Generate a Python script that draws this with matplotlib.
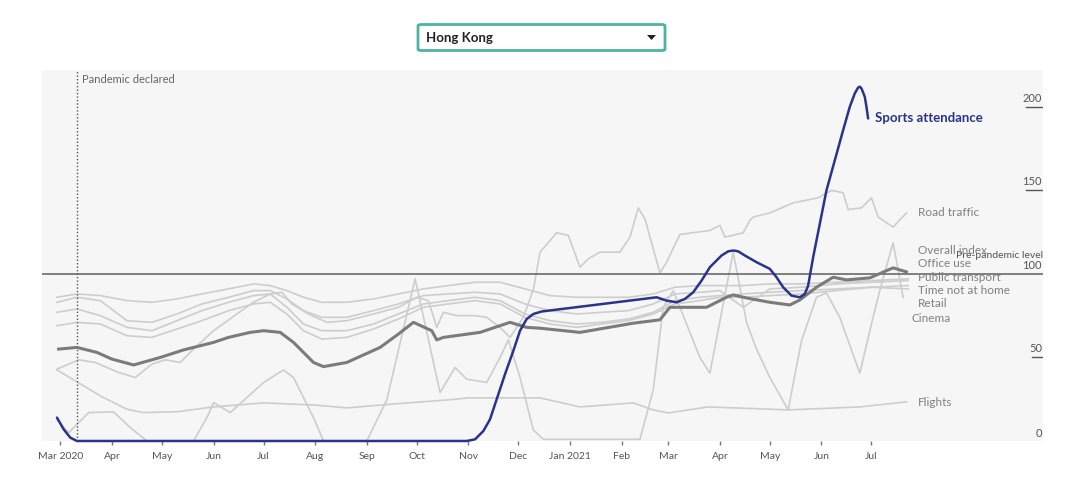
import matplotlib
matplotlib.use("Agg")
import matplotlib.pyplot as plt
import matplotlib.dates as mdates
import pandas as pd
from matplotlib.patches import FancyBboxPatch, Polygon

plt.rcParams['font.family'] = ['Lato', 'DejaVu Sans']

# ---------------- DATA ----------------
sports_dates = ["2020-02-28","2020-03-03","2020-03-07","2020-03-11","2020-10-31","2020-11-05","2020-11-10",
                "2020-11-14","2020-11-18","2020-11-23","2020-11-28","2020-12-02","2020-12-06","2020-12-10",
                "2020-12-15","2021-02-22","2021-02-28","2021-03-06","2021-03-11","2021-03-16","2021-03-21",
                "2021-03-26","2021-04-02","2021-04-06","2021-04-09","2021-04-12","2021-04-16","2021-04-23",
                "2021-05-01","2021-05-05","2021-05-09","2021-05-14","2021-05-19","2021-05-22","2021-05-24",
                "2021-05-27","2021-05-31","2021-06-04","2021-06-09","2021-06-14","2021-06-18","2021-06-21",
                "2021-06-23","2021-06-24","2021-06-25","2021-06-27","2021-06-28","2021-06-29"]
sports_vals = [14, 7, 2, 0, 0, 1, 6, 13, 25, 40, 54, 66, 73, 76, 77.5, 86, 84, 83, 85, 89, 96, 104, 111, 113.5,
               114, 113.5, 111, 107, 103, 98, 92, 87, 86, 88, 93, 110, 130, 150, 168, 186, 200, 208, 211.5,
               212, 211, 206, 200, 193]

overall_dates = ["2020-02-29","2020-03-11","2020-03-23","2020-04-01","2020-04-14","2020-04-30","2020-05-14",
                 "2020-06-01","2020-06-10","2020-06-23","2020-07-01","2020-07-11","2020-07-19","2020-07-31",
                 "2020-08-06","2020-08-20","2020-09-09","2020-09-20","2020-09-29","2020-10-10","2020-10-13",
                 "2020-10-17","2020-11-08","2020-11-26","2020-12-06","2020-12-14","2021-01-07","2021-02-08",
                 "2021-02-20","2021-02-24","2021-03-02","2021-03-24","2021-04-05","2021-04-09","2021-04-17",
                 "2021-05-01","2021-05-13","2021-05-19","2021-05-29","2021-06-08","2021-06-16","2021-06-30",
                 "2021-07-14","2021-07-22"]
overall_vals = [55, 56, 53, 49, 45.5, 50, 54.5, 59, 62, 65, 66, 65, 59, 47, 44.5, 47, 56, 64, 71, 66, 60.5,
                62, 65, 71, 68, 67.5, 65, 70.5, 72, 72.5, 80, 80, 86, 87.4, 85.6, 83, 81.4, 84.4, 92, 98,
                96.4, 97.6, 103.6, 101.2]

road_dates = ["2020-02-28","2020-03-12","2020-03-22","2020-04-05","2020-04-15","2020-04-25","2020-05-03",
              "2020-05-12","2020-05-20","2020-06-01","2020-06-15","2020-06-25","2020-07-05","2020-07-12",
              "2020-07-18","2020-07-28","2020-08-08","2020-08-20","2020-09-05","2020-09-20","2020-10-01",
              "2020-10-08","2020-10-13","2020-10-17","2020-10-25","2020-11-05","2020-11-12","2020-11-20",
              "2020-11-26","2020-12-04","2020-12-10","2020-12-14","2020-12-24","2020-12-31","2021-01-07",
              "2021-01-12","2021-01-19","2021-01-31","2021-02-06","2021-02-11","2021-02-15","2021-02-24",
              "2021-02-28","2021-03-08","2021-03-26","2021-04-01","2021-04-04","2021-04-15","2021-04-19",
              "2021-04-21","2021-05-01","2021-05-15","2021-05-30","2021-06-07","2021-06-14","2021-06-17",
              "2021-06-25","2021-07-01","2021-07-05","2021-07-14","2021-07-22"]
road_vals = [43, 48.6, 47, 41, 38, 46, 48.6, 47, 55, 66, 76, 83, 88, 89, 82, 76, 71, 72, 76, 80, 86, 84, 68,
             77, 75, 75, 74, 68, 62, 74, 90.6, 113, 124.6, 123, 104, 109, 113, 113, 122, 139.5, 133, 100.6,
             107, 123.6, 126, 129, 122, 124.6, 132, 134, 136.5, 142.5, 145.5, 150, 148.5, 138.5, 139.5,
             145.5, 134, 128, 136.5]

bundle_dates = ["2020-02-28","2020-03-11","2020-03-25","2020-04-10","2020-04-25","2020-05-10","2020-05-25",
                "2020-06-10","2020-06-25","2020-07-05","2020-07-15","2020-07-25","2020-08-05","2020-08-20",
                "2020-09-05","2020-09-20","2020-10-05","2020-10-20","2020-11-05","2020-11-20","2020-12-05",
                "2020-12-20","2021-01-05","2021-01-20","2021-02-05","2021-02-20","2021-03-05","2021-03-20",
                "2021-04-01","2021-04-15","2021-05-01","2021-05-20","2021-06-10","2021-07-01","2021-07-23"]
office_vals = [83, 86, 84, 72, 71, 76, 82, 86, 90, 90, 85, 78, 74, 74, 78, 82, 87, 88, 89, 88, 82, 78, 76,
               77, 78, 82, 88, 89, 90, 80, 91, 92, 94, 95, 96]
transport_vals = [77, 79, 75, 68, 66, 72, 78, 83, 87, 88, 80, 70, 66, 66, 70, 76, 82, 84, 86, 84, 76, 72, 70,
                  71, 73, 77, 84, 86, 87, 88, 89, 90, 91, 92, 93]
home_vals = [86, 88, 87, 84, 83, 85, 88, 91, 94, 93, 90, 86, 83, 83, 85, 88, 91, 93, 95, 95, 91, 87, 86, 86,
             86, 88, 92, 93, 93, 93, 94, 94, 95, 96, 97]
retail_vals = [69, 71, 70, 63, 62, 67, 72, 78, 82, 83, 76, 66, 61, 62, 67, 73, 80, 82, 84, 82, 74, 70, 68, 70,
               72, 76, 82, 84, 86, 86, 87, 88, 90, 92, 91]

cinema_dates = ["2020-02-28","2020-03-06","2020-03-18","2020-04-02","2020-04-12","2020-04-22","2020-05-20",
                "2020-05-28","2020-06-01","2020-06-11","2020-06-21","2020-07-01","2020-07-13","2020-07-19",
                "2020-07-31","2020-08-06","2020-09-01","2020-09-13","2020-09-30","2020-10-15","2020-10-24",
                "2020-10-31","2020-11-12","2020-11-20","2020-11-25","2020-12-02","2020-12-10","2020-12-16",
                "2021-02-12","2021-02-20","2021-02-26","2021-03-04","2021-03-20","2021-03-26","2021-04-09",
                "2021-04-17","2021-04-23","2021-05-01","2021-05-12","2021-05-20","2021-05-29","2021-06-04",
                "2021-06-12","2021-06-17","2021-06-24","2021-07-01","2021-07-06","2021-07-14","2021-07-20"]
cinema_vals = [12.6, 5, 17, 17.4, 8, 0, 0, 14, 23, 17, 26, 35, 42.5, 38, 14, 0, 0, 24.5, 97, 29, 44, 37, 35,
               50, 60.5, 38, 6.6, 1, 1, 30.6, 80, 90, 50, 40.6, 113, 71, 55, 38, 18.6, 60, 86, 88.6, 74, 60,
               40.6, 70, 90, 118.6, 86]

flights_dates = ["2020-02-28","2020-03-10","2020-03-25","2020-04-10","2020-04-20","2020-05-10","2020-06-01",
                 "2020-07-01","2020-08-01","2020-08-20","2020-09-15","2020-10-20","2020-11-01","2020-12-14",
                 "2021-01-07","2021-02-08","2021-02-20","2021-03-01","2021-03-25","2021-05-12","2021-06-24",
                 "2021-07-22"]
flights_vals = [42.5, 36, 27, 19, 17, 17.5, 20.4, 22.8, 21.5, 19.8, 22, 24.6, 25.8, 25.8, 20.4, 22.8, 18.6,
                16.8, 20.4, 18.6, 20.4, 23.4]

labels = ["Road traffic", "Overall index", "Office use", "Public transport", "Time not at home", "Retail",
          "Cinema", "Flights"]
label_vals = [136.5, 114, 106, 97.6, 90, 82, 73.6, 22.8]
month_ticks = pd.date_range("2020-03-01", "2021-07-01", freq="MS")
month_labels = ["Mar 2020", "Apr", "May", "Jun", "Jul", "Aug", "Sep", "Oct", "Nov", "Dec", "Jan 2021", "Feb",
                "Mar", "Apr", "May", "Jun", "Jul"]
y_ticks = [0, 50, 100, 150, 200]

# ---------------- FIGURE ----------------
W, H = 1080, 483
fig = plt.figure(figsize=(W / 100, H / 100), dpi=100)
fig.patch.set_facecolor("white")
ax = fig.add_axes([42 / W, 1 - 441 / H, (1043 - 42) / W, (441 - 70) / H])
ax.set_facecolor("#f6f6f6")
for s in ax.spines.values():
    s.set_visible(False)

D = pd.to_datetime
light = "#cdcdcd"
for dts, vals in [(road_dates, road_vals), (bundle_dates, office_vals), (bundle_dates, transport_vals),
                  (bundle_dates, home_vals), (bundle_dates, retail_vals), (cinema_dates, cinema_vals),
                  (flights_dates, flights_vals)]:
    ax.plot(D(dts), vals, color=light, lw=1.2, zorder=2, solid_joinstyle="round")

ax.axhline(100, color="#6a6a6a", lw=1.2, zorder=3)
ax.plot(D(overall_dates), overall_vals, color="#7b7b7b", lw=2.2, zorder=4, solid_joinstyle="round")
ax.plot(D(sports_dates), sports_vals, color="#29348a", lw=1.8, zorder=5, clip_on=False,
        solid_capstyle="round", solid_joinstyle="round")

ax.axvline(D("2020-03-11"), color="#555555", lw=1, ls=(0, (1, 1.5)), zorder=3)
ax.text(D("2020-03-14"), 216.5, "Pandemic declared", fontsize=8, color="#666666", va="center", ha="left")

ax.set_xlim(D("2020-02-19"), D("2021-10-12"))
ax.set_ylim(0, 222)

# right-hand y labels
yt = ax.get_yaxis_transform()
for v in y_ticks:
    ax.text(0.999, v + (1.2 if v == 0 else 1.8), str(v), transform=yt, ha="right", va="bottom",
            fontsize=8, color="#555555")
    if v in (50, 150, 200):
        w = 0.0165 if v >= 100 else 0.011
        ax.plot([1 - w, 1.0], [v, v], transform=yt, color="#555555", lw=1)
ax.text(1.0, 110.8, "Pre-pandemic level", transform=yt, ha="right", va="center", fontsize=7.5,
        color="#555555")

# series labels
lx = D("2021-07-29")
for lab, v in zip(labels, label_vals):
    x = D("2021-07-25") if lab == "Cinema" else lx
    ax.text(x, v, lab, fontsize=8.5, color="#808080", va="center", ha="left")
ax.text(D("2021-07-03"), 193, "Sports attendance", fontsize=9.5, color="#29348a", fontweight="bold",
        va="center", ha="left")

ax.set_yticks([])
ax.set_xticks(month_ticks)
ax.set_xticklabels(month_labels)
ax.tick_params(axis="x", length=3, width=1, color="#777777", labelsize=7.5, labelcolor="#555555", pad=5)

# dropdown
box = FancyBboxPatch((418 / W, 1 - 50.5 / H), (665 - 418) / W, 26 / H,
                     boxstyle="round,pad=0,rounding_size=0.003", transform=fig.transFigure,
                     facecolor="white", edgecolor="#4db3a4", lw=2)
fig.patches.append(box)
fig.text(426 / W, 1 - 37.5 / H, "Hong Kong", fontsize=9.5, fontweight="bold", color="#222222",
         va="center", ha="left")
tri = Polygon([[647 / W, 1 - 35 / H], [656 / W, 1 - 35 / H], [651.5 / W, 1 - 40 / H]], closed=True,
              transform=fig.transFigure, facecolor="#222222", edgecolor="none")
fig.patches.append(tri)

fig.savefig("out.png", dpi=100)
